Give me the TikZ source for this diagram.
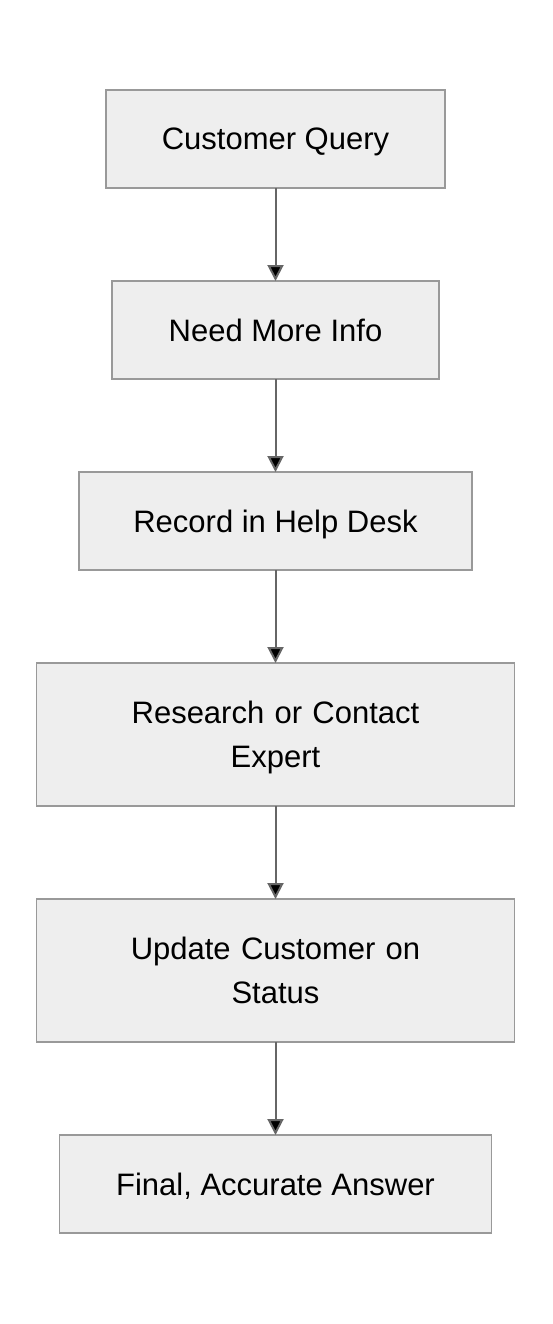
\documentclass[tikz,border=0pt]{standalone}
\usepackage{fontspec}
\setmainfont{Liberation Sans}
\usepackage{tikz}
\usetikzlibrary{arrows.meta, positioning}

\definecolor{boxfill}{HTML}{EEEEEE}
\definecolor{boxline}{HTML}{999999}
\definecolor{flowline}{HTML}{666666}

\begin{document}
\begin{tikzpicture}[x=1pt, y=1pt, node distance = 93pt,
	stage/.style={draw=boxline, fill=boxfill, line width=1.5pt, align=center,
		minimum height=98pt, inner sep=0pt, outer sep=0pt, text depth=0pt,
		font=\fontsize{31}{44}\selectfont},
	twoline/.style={minimum width=478pt, minimum height=143pt, text width=478pt,
		text depth=44pt},
	flow/.style={draw=flowline, line width=2pt, -{Triangle[length=16pt, width=16pt]}}]
	\useasboundingbox (0,0) rectangle (552,-1324);

	\node[stage, minimum width=339pt] (query) at (275.5,-139) {Customer Query};
	\node[stage, minimum width=327pt, below=of query] (info) {Need More Info};
	\node[stage, minimum width=393pt, below=of info] (record) {Record in Help Desk};
	\node[stage, twoline, below=of record] (research) {Research or Contact\\Expert};
	\node[stage, twoline, below=of research] (update) {Update Customer on\\Status};
	\node[stage, minimum width=432pt, below=of update] (answer) {Final, Accurate Answer};

	\path[flow]
	(query) edge (info)
	(info) edge (record)
	(record) edge (research)
	(research) edge (update)
	(update) edge (answer)
	;
\end{tikzpicture}
\end{document}
